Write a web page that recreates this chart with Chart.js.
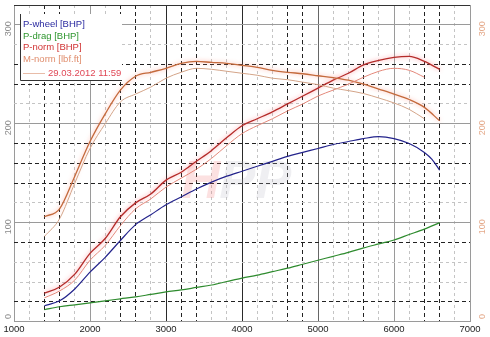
<!DOCTYPE html>
<html>
<head>
<meta charset="utf-8">
<script src="https://cdn.jsdelivr.net/npm/chart.js@4.4.0/dist/chart.umd.min.js"></script>
<style>
  html, body { margin: 0; padding: 0; background: #fff; }
  #wrap { width: 490px; height: 337px; }
</style>
</head>
<body>
<div id="wrap"><canvas id="dyno"></canvas></div>
<script>
// rpm steps
const rpm = [1400,1600,1800,2000,2200,2400,2600,2800,3000,3200,3400,3600,3800,4000,4200,4400,4600,4800,5000,5200,5400,5600,5800,6000,6200,6400,6600];
const rpmWheel = [1400,1600,1800,2000,2200,2400,2600,2800,3000,3200,3400,3600,3800,4000,4200,4400,4600,4800,5000,5200,5400,5600,5800,6000,6200,6400,6500,6600];
const rpmRef = [1400,1600,1800,2000,2200,2400,2600,2800,3000,3200,3400,3600,3800,4000,4200,4400,4600,4800,5000,5200,5400,5600,5800,6000,6200,6400];

// current run
const pWheel = [16,21,33,50,65,82,98,108,118,126,134,141,147,152,157,162,167,171,175,179,182,185,187,185,180,171,164,153];
const pDrag = [12,15,17,19,21,23,25,27.5,30,32,34.5,37,40.5,44,47,50.5,54,58,62,66,70,74.5,78.5,82.5,88,93.5,100];
const pNorm = [28.7,35,48,69,84,106,120,129,143,151,162,173,186,198,205,212,220,228,236,244,251,259.5,264,267,268,263,255];
const mNorm = [106,114,147,182,210,234,248,252,256,261,263,262,261,259,257,254,252,250.5,248.5,246.5,244,240,235,230,224.5,216.5,203];

// comparison run 29.03.2012 11:59
const pNormRef = [24,31,42,62,77,97,114,124,136,145,154,165,178,190,198,205,213,220,228,234,240,247,253,256,254,247];
const mNormRef = [86,104,140,175,200,222,230,237,246,252,256,255,253,251,249,246,244.5,242,239.5,236,233.5,230.5,226,221,214.5,205];

// axis ticks
const xLabels = [1000,2000,3000,4000,5000,6000,7000];
const yLabels = [0,100,200,300];
const xMarked = [1400,1600,2400,2600,3200,3400,4600,4800,5600,6400,6600];
const yMarked = [20,80,140,160,180,240,260];

const legendItems = [
    { text: "P-wheel [BHP]", color: "#2a2aa0" },
    { text: "P-drag [BHP]", color: "#2e962e" },
    { text: "P-norm [BHP]", color: "#d03434" },
    { text: "M-norm [lbf.ft]", color: "#e08e6e" }
];
const runLabel = "29.03.2012 11:59";

const FONT = "'Liberation Sans', Arial, sans-serif";

function pts(xs, ys) {
    return xs.map((x, i) => ({ x: x, y: ys[i] }));
}

// soft halo behind the normalised curves
const glowPlugin = {
    id: "glow",
    beforeDatasetDraw(chart, args) {
        const ds = chart.data.datasets[args.index];
        if (!ds.glow) return;
        chart.ctx.save();
        chart.ctx.shadowColor = ds.glow;
        chart.ctx.shadowBlur = 4;
    },
    afterDatasetDraw(chart, args) {
        const ds = chart.data.datasets[args.index];
        if (!ds.glow) return;
        chart.ctx.restore();
    }
};

// watermark, rotated axis labels and the legend box
const decorPlugin = {
    id: "decor",
    beforeDatasetsDraw(chart) {
        const ctx = chart.ctx;
        const x = chart.scales.x, y = chart.scales.y;
        ctx.save();
        ctx.font = "italic bold 54px " + FONT;
        ctx.textBaseline = "middle";
        ctx.fillStyle = "rgba(240,120,120,0.22)";
        ctx.fillText("H", x.getPixelForValue(3200), y.getPixelForValue(140));
        ctx.fillStyle = "rgba(180,180,195,0.22)";
        ctx.fillText("PP", x.getPixelForValue(3700), y.getPixelForValue(140));
        ctx.restore();
    },
    afterDatasetsDraw(chart) {
        const ctx = chart.ctx;
        const y = chart.scales.y;
        const area = chart.chartArea;

        ctx.save();
        ctx.font = "9px " + FONT;
        ctx.textAlign = "center";
        ctx.textBaseline = "middle";
        yLabels.forEach(v => {
            let py = y.getPixelForValue(v) + (v === 0 ? -5 : 4);
            ctx.save();
            ctx.translate(9, py);
            ctx.rotate(-Math.PI / 2);
            ctx.fillStyle = "#8a8a8a";
            ctx.fillText(String(v), 0, 0);
            ctx.restore();
            ctx.save();
            ctx.translate(area.right + 13, py);
            ctx.rotate(-Math.PI / 2);
            ctx.fillStyle = "#e4a888";
            ctx.fillText(String(v), 0, 0);
            ctx.restore();
        });

        // legend box
        const bx = 20, by = 14, bw = 102, bh = 66;
        ctx.fillStyle = "#fff";
        ctx.fillRect(bx, by, bw, bh);
        ctx.strokeStyle = "#333";
        ctx.lineWidth = 1;
        ctx.beginPath();
        ctx.moveTo(bx + 0.5, by);
        ctx.lineTo(bx + 0.5, by + bh + 0.5);
        ctx.lineTo(bx + bw, by + bh + 0.5);
        ctx.stroke();

        ctx.font = "9.5px " + FONT;
        ctx.textAlign = "left";
        ctx.textBaseline = "middle";
        legendItems.forEach((item, i) => {
            ctx.fillStyle = item.color;
            ctx.fillText(item.text, 23, 24.5 + i * 11.5);
        });
        ctx.strokeStyle = "#e8bca8";
        ctx.beginPath();
        ctx.moveTo(23, 73.5);
        ctx.lineTo(45, 73.5);
        ctx.stroke();
        ctx.fillStyle = "#e04856";
        ctx.fillText(runLabel, 48, 73.5);
        ctx.restore();
    }
};

const ctx = document.getElementById("dyno").getContext("2d");
new Chart(ctx, {
    type: "line",
    data: {
        datasets: [
            { label: "M-norm ref", data: pts(rpmRef, mNormRef), borderColor: "#d4a488", borderWidth: 1 },
            { label: "P-norm ref", data: pts(rpmRef, pNormRef), borderColor: "#e4887a", borderWidth: 1 },
            { label: "P-drag [BHP]", data: pts(rpm, pDrag), borderColor: "#2e8b2e", borderWidth: 1.2 },
            { label: "P-wheel [BHP]", data: pts(rpmWheel, pWheel), borderColor: "#24248c", borderWidth: 1.2 },
            { label: "M-norm [lbf.ft]", data: pts(rpm, mNorm), borderColor: "#c46a3c", borderWidth: 1.3, glow: "rgba(255,140,120,0.7)" },
            { label: "P-norm [BHP]", data: pts(rpm, pNorm), borderColor: "#b42c2a", borderWidth: 1.3, glow: "rgba(255,100,110,0.7)" }
        ]
    },
    options: {
        responsive: true,
        maintainAspectRatio: false,
        devicePixelRatio: 1,
        animation: false,
        layout: { padding: { left: 14, right: 20, top: 5, bottom: 0 } },
        elements: {
            point: { radius: 0 },
            line: { tension: 0.4, cubicInterpolationMode: "monotone", fill: false }
        },
        plugins: {
            legend: { display: false },
            tooltip: { enabled: false }
        },
        scales: {
            x: {
                type: "linear",
                min: 1000,
                max: 7000,
                ticks: {
                    stepSize: 200,
                    autoSkip: false,
                    maxRotation: 0,
                    padding: 2,
                    color: "#222",
                    font: { family: FONT, size: 9.5 },
                    callback: v => (xLabels.includes(v) ? String(v) : "")
                },
                grid: {
                    drawTicks: false,
                    lineWidth: 1,
                    color: c => {
                        const v = c.tick.value;
                        if (v === 3000 || v === 4000) return "#2a2a2a";
                        if (v === 5000) return "#666";
                        if (v % 1000 === 0) return "#9a9a9a";
                        if (xMarked.includes(v)) return "#222";
                        return "#c4c4c4";
                    }
                },
                border: {
                    color: "#9a9a9a",
                    dash: c => {
                        const v = c.tick ? c.tick.value : 0;
                        if (v % 1000 === 0) return [];
                        if (xMarked.includes(v)) return [4, 3];
                        return [3, 3];
                    }
                }
            },
            y: {
                min: 0,
                max: 320,
                ticks: { stepSize: 20, display: false },
                grid: {
                    drawTicks: false,
                    lineWidth: 1,
                    color: c => {
                        const v = c.tick.value;
                        if (v === 320) return "#333";
                        if (v % 100 === 0) return "#9a9a9a";
                        if (yMarked.includes(v)) return "#222";
                        return "#c4c4c4";
                    }
                },
                border: {
                    display: false,
                    dash: c => {
                        const v = c.tick ? c.tick.value : 0;
                        if (v % 100 === 0 || v === 320) return [];
                        if (yMarked.includes(v)) return [4, 3];
                        return [3, 3];
                    }
                }
            }
        }
    },
    plugins: [glowPlugin, decorPlugin]
});
</script>
</body>
</html>
